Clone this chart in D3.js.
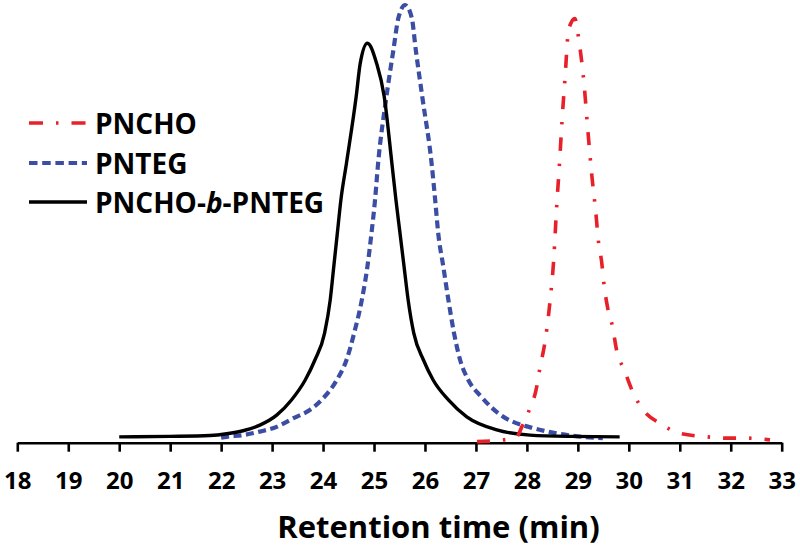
<!DOCTYPE html>
<html>
<head>
<meta charset="utf-8">
<script src="https://cdn.jsdelivr.net/npm/d3@7"></script>
<style>
  html, body { margin: 0; padding: 0; background: #fff; }
  svg { display: block; }
  text { font-family: "Open Sans", "Noto Sans", sans-serif; font-weight: 700; fill: #000; }
</style>
</head>
<body>
<svg id="chart" width="800" height="549"></svg>
<script>
// ---- data (retention time in min, normalized detector response) ----
const tickValues = [18,19,20,21,22,23,24,25,26,27,28,29,30,31,32,33];
const axisTitle = "Retention time (min)";
const seriesNames = ["PNCHO", "PNTEG", "PNCHO-b-PNTEG"];

const pnchoTime = [27.02,27.47,27.80,27.90,28.06,28.18,28.26,28.34,28.45,28.53,28.58,28.64,28.69,28.75,28.81,28.88,28.94,29.02,29.12,29.19,29.27,29.36,29.40,29.47,29.51,29.58,29.68,29.76,29.91,30.09,30.28,30.61,31.00,31.53,31.89,32.31,32.77];
const pnchoSignal = [-0.006,-0.003,0.005,0.028,0.071,0.113,0.167,0.213,0.313,0.420,0.528,0.635,0.735,0.835,0.935,0.962,0.969,0.919,0.820,0.720,0.612,0.512,0.459,0.405,0.359,0.305,0.259,0.205,0.159,0.105,0.067,0.036,0.013,0.005,0.002,0.002,-0.002];

const pntegTime = [22.00,22.11,22.43,22.76,23.09,23.42,23.74,23.97,24.27,24.46,24.61,24.76,24.87,24.95,25.02,25.08,25.24,25.38,25.48,25.61,25.74,25.82,25.95,26.13,26.20,26.26,26.36,26.46,26.57,26.69,26.85,27.10,27.54,27.72,28.10,28.58,29.00,29.49];
const pntegSignal = [0.003,0.005,0.009,0.017,0.028,0.048,0.067,0.090,0.136,0.182,0.244,0.320,0.397,0.474,0.551,0.635,0.786,0.896,0.971,1.000,0.971,0.896,0.786,0.635,0.551,0.474,0.397,0.320,0.244,0.182,0.136,0.098,0.051,0.040,0.026,0.013,0.006,0.002];

const blockTime = [20.00,21.00,21.78,22.11,22.43,22.76,23.09,23.38,23.65,23.84,24.03,24.14,24.21,24.28,24.35,24.46,24.65,24.73,24.87,25.05,25.20,25.35,25.43,25.51,25.59,25.67,25.78,25.97,26.16,26.46,26.82,27.41,28.06,28.85,29.82];
const blockSignal = [0.005,0.006,0.008,0.012,0.019,0.032,0.055,0.090,0.136,0.182,0.244,0.320,0.397,0.474,0.551,0.636,0.789,0.866,0.912,0.866,0.789,0.636,0.551,0.474,0.397,0.320,0.244,0.182,0.136,0.090,0.051,0.021,0.009,0.006,0.005];

// ---- layout ----
const svg = d3.select("#chart");
const x = d3.scaleLinear().domain([18, 33]).range([17.3, 781.7]);
const y = d3.scaleLinear().domain([0, 1]).range([439, 5]);
const axisY = 442.7;

const series = [
  { name: seriesNames[0], t: pnchoTime, v: pnchoSignal, color: "#e8202a", width: 3.6, dash: "13,13,2.5,13" },
  { name: seriesNames[1], t: pntegTime, v: pntegSignal, color: "#3b4ea4", width: 4.2, dash: "8,4.5" },
  { name: seriesNames[2], t: blockTime, v: blockSignal, color: "#000000", width: 3.4, dash: null }
];

const line = d3.line()
  .x(d => x(d[0]))
  .y(d => y(d[1]))
  .curve(d3.curveMonotoneX);

// axis
const axis = d3.axisBottom(x)
  .tickValues(tickValues)
  .tickSize(9)
  .tickPadding(20)
  .tickSizeOuter(0)
  .tickFormat(d3.format("d"));

const gAxis = svg.append("g")
  .attr("transform", `translate(0,${axisY})`)
  .call(axis);
gAxis.select(".domain").attr("stroke", "#000").attr("stroke-width", 2.6);
gAxis.selectAll(".tick line").attr("stroke", "#000").attr("stroke-width", 2.6);
gAxis.selectAll(".tick text")
  .attr("font-family", "'Open Sans', 'Noto Sans', sans-serif")
  .attr("font-weight", 700)
  .attr("font-size", 24)
  .attr("fill", "#000");

svg.append("text")
  .attr("x", 438.5)
  .attr("y", 538)
  .attr("text-anchor", "middle")
  .attr("font-size", 31)
  .text(axisTitle);

// curves (draw blue, black, red order so red on top at crossings)
const drawOrder = [1, 2, 0];
drawOrder.forEach(i => {
  const s = series[i];
  const pts = s.t.map((t, k) => [t, s.v[k]]);
  svg.append("path")
    .datum(pts)
    .attr("d", line)
    .attr("fill", "none")
    .attr("stroke", s.color)
    .attr("stroke-width", s.width)
    .attr("stroke-dasharray", s.dash)
    .attr("stroke-linejoin", "round");
});

// legend
const legendRows = [123, 163, 202];
const legendDash = ["14,13,2.5,13", "8.5,4.7", null];
series.forEach((s, i) => {
  const g = svg.append("g").attr("transform", `translate(0,${legendRows[i]})`);
  g.append("line")
    .attr("x1", 29).attr("x2", 87)
    .attr("y1", 0).attr("y2", 0)
    .attr("stroke", s.color)
    .attr("stroke-width", s.width)
    .attr("stroke-dasharray", legendDash[i]);
  const t = g.append("text")
    .attr("x", 95)
    .attr("y", 10.5)
    .attr("font-size", 28);
  if (s.name.includes("-b-")) {
    const parts = s.name.split("-b-");
    t.append("tspan").text(parts[0] + "-");
    t.append("tspan").attr("font-style", "italic").text("b");
    t.append("tspan").text("-" + parts[1]);
  } else {
    t.text(s.name);
  }
});
</script>
</body>
</html>
